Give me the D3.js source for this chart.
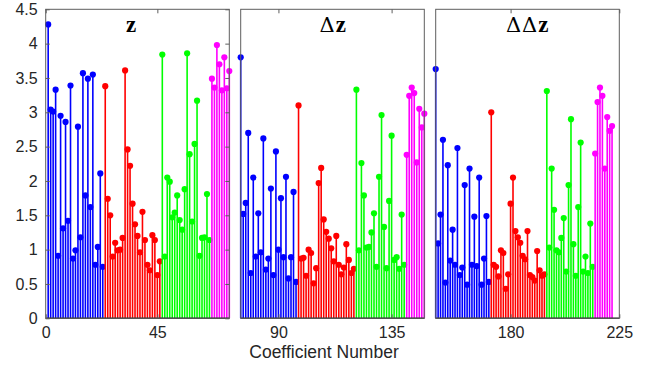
<!DOCTYPE html>
<html>
<head>
<meta charset="utf-8">
<script src="https://cdn.jsdelivr.net/npm/d3@7"></script>
<style>
  html, body { margin: 0; padding: 0; background: #fff; }
  svg { display: block; }
  .tick text { font-family: "Liberation Sans", Arial, Helvetica, sans-serif; font-size: 16px; fill: #262626; }
</style>
</head>
<body>
<svg id="chart" width="659" height="367"></svg>
<script>
// Magnitudes of the static (z), delta and delta-delta coefficient blocks
const zVals = [
  4.28, 3.04, 3.01, 3.33, 0.91, 2.95, 1.31, 2.86, 1.42, 3.39, 0.87, 0.99, 2.79, 1.18, 3.57, 1.79, 3.49, 1.62, 3.55, 0.78, 1.04, 2.11, 0.75,
  3.38, 1.74, 1.50, 0.90, 1.10, 0.99, 1.00, 1.17, 3.61, 2.46, 2.22, 1.67, 1.37, 1.20, 0.96, 1.55, 1.14, 0.78, 0.70, 1.21, 1.14, 0.63, 0.83,
  3.84, 0.90, 2.05, 1.99, 1.47, 1.54, 1.79, 1.43, 1.29, 1.88, 3.86, 2.39, 1.41, 2.54, 3.17, 0.91, 1.17, 1.18, 1.81, 1.14,
  3.49, 3.36, 3.98, 3.70, 3.32, 3.80, 3.35, 3.60
];
const dzVals = [
  3.80, 1.52, 1.68, 2.70, 0.66, 2.05, 0.90, 1.53, 0.96, 2.62, 0.71, 0.87, 1.89, 0.63, 2.43, 1.00, 1.75, 0.89, 2.06, 0.58, 0.89, 1.84, 0.53,
  3.10, 0.87, 0.88, 0.62, 1.00, 0.95, 0.51, 0.73, 1.97, 2.19, 1.44, 1.26, 1.16, 1.02, 0.83, 1.20, 0.78, 0.64, 0.74, 1.08, 0.85, 0.66, 0.72,
  3.33, 0.99, 2.26, 1.79, 1.03, 1.04, 1.25, 1.53, 0.75, 2.06, 2.96, 1.33, 0.73, 1.71, 2.66, 0.85, 0.89, 0.72, 1.51, 0.78,
  2.38, 3.24, 3.36, 3.28, 2.27, 3.05, 2.78, 2.98
];
const ddzVals = [
  3.63, 1.09, 1.51, 2.60, 0.52, 2.23, 0.84, 1.29, 0.78, 2.48, 0.63, 0.74, 1.94, 0.49, 2.18, 0.78, 1.48, 0.76, 2.05, 0.49, 0.87, 1.49, 0.53,
  3.00, 0.78, 0.75, 0.61, 0.99, 0.95, 0.43, 0.64, 1.67, 2.05, 1.27, 1.18, 1.10, 0.91, 0.86, 1.27, 0.63, 0.60, 0.55, 0.98, 0.70, 0.62, 0.64,
  3.31, 1.03, 2.18, 1.58, 0.99, 0.96, 1.17, 1.46, 0.68, 1.94, 2.90, 1.08, 0.62, 1.62, 2.56, 0.68, 0.90, 0.66, 1.38, 0.75,
  2.40, 3.15, 3.36, 3.24, 2.18, 2.93, 2.73, 2.80
];

// Number of coefficients in each band of a block (blue, red, green, magenta)
const bandSizes = [23, 23, 20, 8];
// Coefficient number of the first stem in each block
const blockStarts = [1, 75, 149];
// Axis limits and ticks per block
const blockDomains = [[0, 74], [75, 148], [149, 225]];
const xTickValues = [[0, 45], [90, 135], [180, 225]];
const yTickValues = [0, 0.5, 1, 1.5, 2, 2.5, 3, 3.5, 4, 4.5];
const xLabel = "Coefficient Number";

const bandColors = ["#0000ff", "#ff0000", "#00ff00", "#ff00ff"];

const blocks = [
  { values: zVals,   title: [{ t: "z", bold: true }] },
  { values: dzVals,  title: [{ t: "\u0394" }, { t: "z", bold: true }] },
  { values: ddzVals, title: [{ t: "\u0394\u0394" }, { t: "z", bold: true }] }
];

const svg = d3.select("#chart");
const panelW = 183.6, panelH = 309, panelTop = 9.3;
const panelLefts = [45.7, 240.7, 435.7];
const titleX = [85.5, 92, 91.5];
const axisColor = "#5e5e5e";

const y = d3.scaleLinear().domain([0, 4.5]).range([panelH, 0]);

function bandOf(i) {
  let acc = 0;
  for (let b = 0; b < bandSizes.length; b++) {
    acc += bandSizes[b];
    if (i < acc) return b;
  }
  return bandSizes.length - 1;
}

blocks.forEach((blk, bi) => {
  const g = svg.append("g").attr("transform", `translate(${panelLefts[bi]},${panelTop})`);
  const x = d3.scaleLinear().domain(blockDomains[bi]).range([0, panelW]);
  const pts = blk.values.map((v, i) => ({ n: blockStarts[bi] + i, v, band: bandOf(i) }));

  // stems, one band at a time: lines first, markers on top
  bandColors.forEach((col, b) => {
    const sub = pts.filter(d => d.band === b);
    const sg = g.append("g");
    sg.selectAll("line").data(sub).join("line")
      .attr("x1", d => x(d.n)).attr("x2", d => x(d.n))
      .attr("y1", y(0)).attr("y2", d => y(d.v))
      .attr("stroke", col).attr("stroke-width", 1.6);
    sg.selectAll("circle").data(sub).join("circle")
      .attr("cx", d => x(d.n)).attr("cy", d => y(d.v))
      .attr("r", 3.1).attr("fill", col);
  });

  // stem baseline
  g.append("line")
    .attr("x1", 0).attr("x2", panelW).attr("y1", y(0)).attr("y2", y(0))
    .attr("stroke", "#333").attr("stroke-width", 1.5);

  // frame
  g.append("rect")
    .attr("x", 0).attr("y", 0).attr("width", panelW).attr("height", panelH)
    .attr("fill", "none").attr("stroke", axisColor).attr("stroke-width", 1);

  // x axes (inward ticks, labels below)
  const xb = g.append("g").attr("transform", `translate(0,${panelH})`)
    .call(d3.axisBottom(x).tickValues(xTickValues[bi]).tickSizeInner(-4).tickSizeOuter(0).tickPadding(8).tickFormat(d3.format("d")));
  const xt = g.append("g")
    .call(d3.axisTop(x).tickValues(xTickValues[bi]).tickSizeInner(-4).tickSizeOuter(0).tickFormat(""));
  [xb, xt].forEach(a => {
    a.select(".domain").remove();
    a.selectAll(".tick line").attr("stroke", axisColor);
  });

  // y axes only on the first block
  if (bi === 0) {
    const yl = g.append("g")
      .call(d3.axisLeft(y).tickValues(yTickValues).tickSizeInner(-4).tickSizeOuter(0).tickPadding(8).tickFormat(d => String(d)));
    const yr = g.append("g").attr("transform", `translate(${panelW},0)`)
      .call(d3.axisRight(y).tickValues(yTickValues).tickSizeInner(-4).tickSizeOuter(0).tickFormat(""));
    [yl, yr].forEach(a => {
      a.select(".domain").remove();
      a.selectAll(".tick line").attr("stroke", axisColor);
    });
  }

  // block title
  const t = g.append("text")
    .attr("x", titleX[bi]).attr("y", 22.4)
    .attr("text-anchor", "middle")
    .attr("fill", "#000");
  blk.title.forEach(part => {
    t.append("tspan")
      .attr("font-family", part.bold ? "'Liberation Serif', 'Times New Roman', serif" : "'DejaVu Serif', serif")
      .attr("font-weight", part.bold ? "bold" : "normal")
      .attr("font-size", part.bold ? "23px" : "21px")
      .attr("letter-spacing", part.bold ? null : "1px")
      .text(part.t);
  });
});

// shared x label
svg.append("text")
  .attr("x", 324).attr("y", 358)
  .attr("text-anchor", "middle")
  .attr("font-family", "'Liberation Sans', Arial, Helvetica, sans-serif")
  .attr("font-size", "17.5px")
  .attr("fill", "#262626")
  .text(xLabel);
</script>
</body>
</html>
